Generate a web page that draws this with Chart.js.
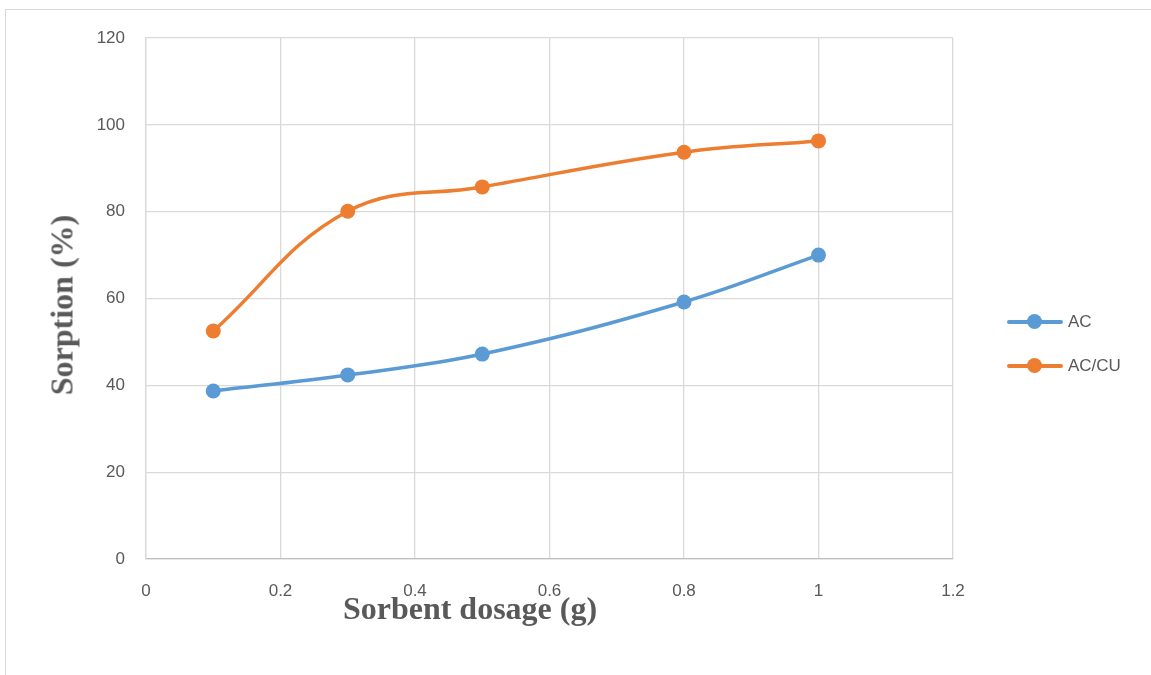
<!DOCTYPE html>
<html>
<head>
<meta charset="utf-8">
<script src="https://cdn.jsdelivr.net/npm/chart.js@4"></script>
<style>
    html, body { margin: 0; padding: 0; background: #fff; }
    .wrap { position: relative; width: 1151px; height: 675px; overflow: hidden; }
    .frame { position: absolute; left: 5px; top: 9px; width: 1200px; height: 700px;
             border-left: 1.5px solid #d9d9d9; border-top: 1.5px solid #d9d9d9; }
    canvas { position: absolute; left: 0; top: 0; }
    .ytitle { position: absolute; left: 62px; top: 305px; transform: translate(-50%, -50%) rotate(-90deg);
              font: bold 32px "Liberation Serif", serif; color: #595959; white-space: nowrap; }
    .xtitle { position: absolute; left: 470px; top: 608px; transform: translate(-50%, -50%);
              font: bold 32px "Liberation Serif", serif; color: #595959; white-space: nowrap; }
    .legend { position: absolute; left: 1007px; top: 310px; font: 17px "Liberation Sans", sans-serif; color: #595959; }
    .legend div { display: flex; align-items: center; height: 24px; margin-bottom: 20px; }
    .legend i { position: relative; display: inline-block; width: 56px; height: 3.5px; margin-right: 5px; border-radius: 2px; }
    .legend i::after { content: ""; position: absolute; left: 20px; top: -6px; width: 15px; height: 15px; border-radius: 50%; background: inherit; }
</style>
</head>
<body>
<div class="wrap">
    <div class="frame"></div>
    <canvas id="chart" width="1151" height="675"></canvas>
    <div class="ytitle">Sorption (%)</div>
    <div class="xtitle">Sorbent dosage (g)</div>
    <div class="legend" id="legend"></div>
</div>
<script>
// --- data ---
const dosage = [0.1, 0.3, 0.5, 0.8, 1.0];
const acValues = [38.7, 42.4, 47.2, 59.2, 70.0];
const acCuValues = [52.5, 80.1, 85.7, 93.7, 96.3];
const xTicks = [0, 0.2, 0.4, 0.6, 0.8, 1, 1.2];
const yTicks = [0, 20, 40, 60, 80, 100, 120];
const seriesNames = ['AC', 'AC/CU'];
const seriesColors = ['#5b9bd5', '#ed7d31'];

const toPoints = (vals) => dosage.map((x, i) => ({ x: x, y: vals[i] }));
const tickFont = { family: 'Liberation Sans', size: 17 };

function makeSet(label, vals, color) {
    return {
        label: label,
        data: toPoints(vals),
        borderColor: color,
        backgroundColor: color,
        borderWidth: 3.5,
        pointRadius: 7.5,
        pointBorderWidth: 0,
        tension: 0.4,
        showLine: true,
        fill: false
    };
}

new Chart(document.getElementById('chart'), {
    type: 'scatter',
    data: {
        datasets: [
            makeSet(seriesNames[0], acValues, seriesColors[0]),
            makeSet(seriesNames[1], acCuValues, seriesColors[1])
        ]
    },
    options: {
        responsive: false,
        animation: false,
        layout: { padding: { left: 0, top: 38, right: 198, bottom: 0 } },
        plugins: { legend: { display: false }, tooltip: { enabled: false } },
        scales: {
            x: {
                type: 'linear', min: 0, max: 1.2,
                afterFit: (s) => { s.height = 116; },
                afterBuildTicks: (s) => { s.ticks = xTicks.map(v => ({ value: v })); },
                grid: { color: '#d9d9d9', lineWidth: 1.3, drawTicks: false },
                border: { color: '#bfbfbf', width: 1.3 },
                ticks: { color: '#595959', font: tickFont, padding: 22, maxRotation: 0,
                         callback: (v) => String(v) }
            },
            y: {
                min: 0, max: 120,
                afterFit: (s) => { s.width = 146; },
                afterBuildTicks: (s) => { s.ticks = yTicks.map(v => ({ value: v })); },
                grid: { color: '#d9d9d9', lineWidth: 1.3, drawTicks: false },
                border: { color: '#d9d9d9', width: 1.3 },
                ticks: { color: '#595959', font: tickFont, padding: 21 }
            }
        }
    }
});

// legend
const legendEl = document.getElementById('legend');
seriesNames.forEach((name, i) => {
    const row = document.createElement('div');
    row.innerHTML = `<i style="background:${seriesColors[i]}"></i><span>${name}</span>`;
    legendEl.appendChild(row);
});
</script>
</body>
</html>
